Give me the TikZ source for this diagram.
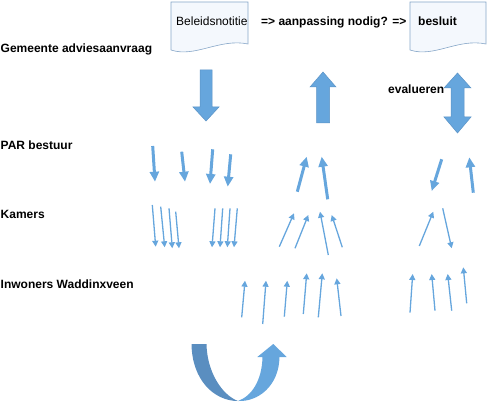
\documentclass[tikz,border=0pt]{standalone}
\usepackage{fontspec}
\setmainfont{Liberation Sans}
\usetikzlibrary{arrows.meta}
\definecolor{arrblue}{HTML}{66A6DD}
\definecolor{arredge}{HTML}{5B93C6}
\definecolor{darkrib}{HTML}{5A8EC0}
\definecolor{docfill}{HTML}{F4F8FD}
\definecolor{docedge}{HTML}{86A6C8}
\tikzset{
  lbl/.style={anchor=base west, inner sep=0pt, font=\fontsize{12}{14}\selectfont\bfseries},
  doctext/.style={anchor=base west, inner sep=0pt, font=\fontsize{12}{14}\selectfont},
  docshape/.style={fill=docfill, draw=docedge, line width=0.6pt},
  blockarrow/.style={fill=arrblue, draw=arredge, line width=0.5pt},
  thickarrow/.style={draw=arrblue, line width=3pt, -{Triangle[width=9pt,length=10pt]}},
  thinarrow/.style={draw=arrblue, line width=1.3pt, -{Triangle[width=6pt,length=6pt]}},
}
\begin{document}
\begin{tikzpicture}[x=1pt,y=-1pt]
\useasboundingbox (0,0) rectangle (487,403);

% documents
\draw[docshape] (171,2) -- (248,2) -- (248,44) .. controls (220,38) and (195,58) .. (171,50) -- cycle;
\draw[docshape] (410,2) -- (486,2) -- (486,44) .. controls (458,38) and (434,58) .. (410,50) -- cycle;

% texts
\node[doctext] (beleid) at (176,25.5) {Beleidsnotitie};
\node[lbl] (aanp) at (261,25.5) {=> aanpassing nodig? =>};
\node[lbl] (besluit) at (418,25.5) {besluit};
\node[lbl] (gem) at (0.5,53) {Gemeente adviesaanvraag};
\node[lbl] (par) at (0.5,150) {PAR bestuur};
\node[lbl] (kam) at (0.5,218.5) {Kamers};
\node[lbl] (inw) at (0.5,288.3) {Inwoners Waddinxveen};
\node[lbl] (eval) at (388,94) {evalueren};

% block arrows
\draw[blockarrow] (200,70) -- (212,70) -- (212,107) -- (219,107) -- (206,121) -- (193,107) -- (200,107) -- cycle;
\draw[blockarrow] (316.5,123) -- (329.5,123) -- (329.5,87) -- (336,87) -- (323,72) -- (310,87) -- (316.5,87) -- cycle;
\draw[blockarrow] (457.5,73) -- (471,88) -- (464,88) -- (464,117) -- (471,117) -- (457.5,133) -- (444,117) -- (451,117) -- (451,88) -- (444,88) -- cycle;

% thick arrows (PAR row)
\foreach \n/\ax/\ay/\bx/\by in {
  1/152.7/146/155/181.7, 2/181.7/151.7/185/181.7, 3/212.7/149.3/210/184, 4/230.7/154.3/227.7/186.7,
  5/297.3/191.7/306.7/156.7, 6/327.7/199.3/321.7/156.7,
  7/441.7/159.3/431.7/191, 8/473.3/192.7/469.3/157.3}{
  \coordinate (pa\n) at (\ax,\ay);
  \coordinate (pb\n) at (\bx,\by);
  \draw[thickarrow] (pa\n) -- (pb\n);
}

% thin arrows (Kamers row)
\foreach \n/\ax/\ay/\bx/\by in {
  1/152.3/205/155.7/246.7, 2/160.7/206.7/164.7/247.3, 3/169/208.3/172.3/248.3, 4/175.7/211.7/179/248.3,
  5/215/208.3/212/247.3, 6/222.7/208.3/220/247.3, 7/230/208.3/227.3/247.3, 8/237.3/208.3/234/247.3,
  9/279.3/246.7/294/213.3, 10/295/248.3/308.3/215, 11/328.3/255/320/211.7, 12/342.3/247.3/331.7/215,
  13/419.3/246/433.3/211.7, 14/442.7/208.3/451.7/248.3}{
  \coordinate (ka\n) at (\ax,\ay);
  \coordinate (kb\n) at (\bx,\by);
  \draw[thinarrow] (ka\n) -- (kb\n);
}

% thin arrows (Inwoners row)
\foreach \n/\ax/\ay/\bx/\by in {
  1/241.7/317.3/245/280.7, 2/262.7/324/266/280.7, 3/284.3/316.7/287.3/280.7,
  4/303.3/314/306.7/273.3, 5/318.3/317.3/322.3/273.3, 6/341/316/336.7/278.3,
  7/410/312.7/412.7/274, 8/435/310.7/431.7/274, 9/451.7/310.7/447.7/274, 10/466.7/303.3/463.3/267.3}{
  \coordinate (ia\n) at (\ax,\ay);
  \coordinate (ib\n) at (\bx,\by);
  \draw[thinarrow] (ia\n) -- (ib\n);
}

% U-turn arrow
\fill[darkrib] (191.5,344) -- (206.5,344) .. controls (207,372) and (222,395) .. (238,401)
   .. controls (214,401) and (192,380) .. (191.5,344) -- cycle;
\fill[arrblue] (238,401) .. controls (252,396) and (262,380) .. (262.5,357) -- (257.3,357) -- (273.3,344)
   -- (286.7,357) -- (279.5,357) .. controls (279,386) and (258,402) .. (238,401) -- cycle;
\end{tikzpicture}
\end{document}
